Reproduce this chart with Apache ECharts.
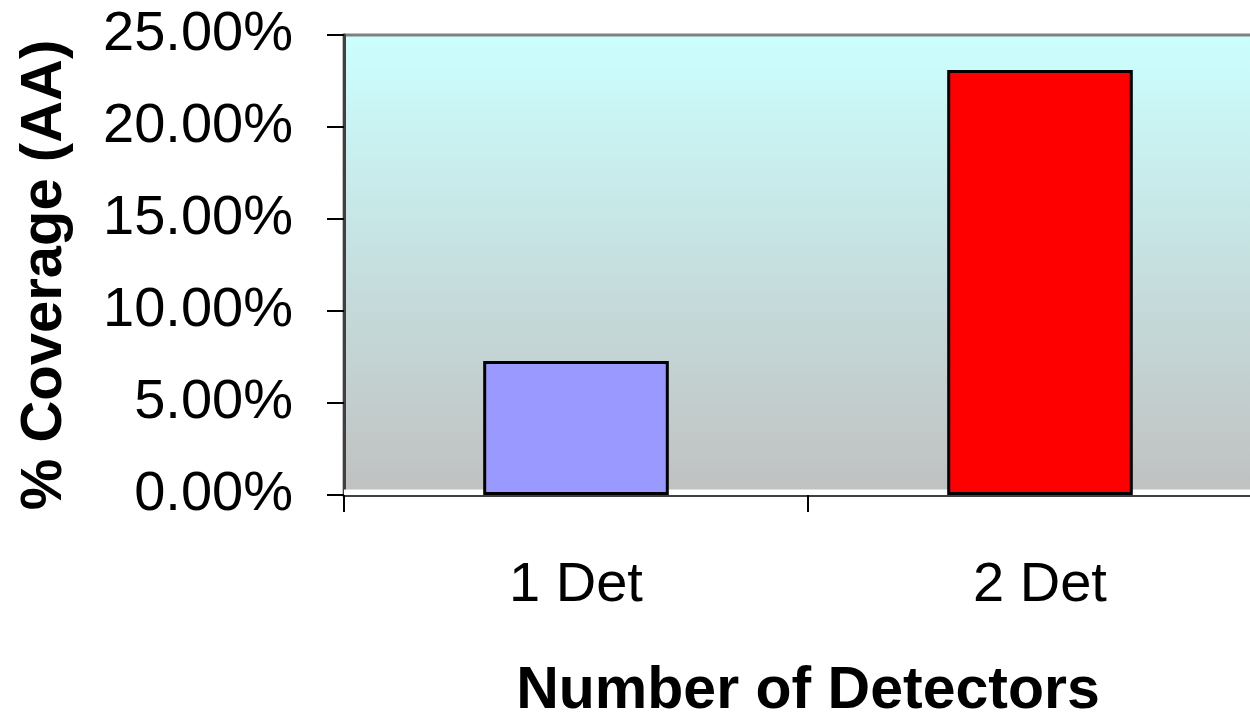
<!DOCTYPE html>
<html>
<head>
<meta charset="utf-8">
<script src="https://cdn.jsdelivr.net/npm/echarts@6/dist/echarts.min.js"></script>
<style>
html,body{margin:0;padding:0;background:#fff;}
#chart{width:1250px;height:714px;}
</style>
</head>
<body>
<div id="chart"></div>
<script>
// Data
const categories = ['1 Det', '2 Det'];
const coverageValues = [7.28, 23.1];   // % Coverage (AA)
const barColors = ['#9999FF', '#FF0000'];
const yTicks = [0, 5, 10, 15, 20, 25];
const xAxisTitle = 'Number of Detectors';
const yAxisTitle = '% Coverage (AA)';

const FONT = '"Liberation Sans", Arial, Helvetica, sans-serif';
const chart = echarts.init(document.getElementById('chart'), null, {renderer: 'canvas'});

chart.setOption({
  animation: false,
  backgroundColor: '#ffffff',
  grid: {
    left: 344, top: 35, bottom: 219, right: -22,
    outerBoundsMode: 'none',
    containLabel: false,
    show: true,
    borderColor: '#808080',
    borderWidth: 3,
    backgroundColor: {
      type: 'linear', x: 0, y: 0, x2: 0, y2: 1,
      colorStops: [{offset: 0, color: '#CCFFFF'}, {offset: 1, color: '#C0C0C0'}]
    }
  },
  xAxis: {
    type: 'category',
    data: categories,
    boundaryGap: true,
    name: xAxisTitle,
    nameLocation: 'middle',
    nameGap: 167,
    nameTextStyle: {fontFamily: FONT, fontSize: 59, fontWeight: 'bold', color: '#000'},
    axisLine: {lineStyle: {color: '#404040', width: 3}},
    axisTick: {show: true, length: 17, alignWithLabel: false, lineStyle: {color: '#000', width: 2}},
    axisLabel: {fontFamily: FONT, fontSize: 56, color: '#000', margin: 63}
  },
  yAxis: {
    type: 'value',
    min: yTicks[0],
    max: yTicks[yTicks.length - 1],
    interval: yTicks[1] - yTicks[0],
    name: yAxisTitle,
    nameLocation: 'middle',
    nameGap: 270,
    nameTextStyle: {fontFamily: FONT, fontSize: 58, fontWeight: 'bold', color: '#000', padding: [0, 20, 0, 0]},
    axisLine: {show: true, lineStyle: {color: '#404040', width: 3}},
    axisTick: {show: true, length: 17, lineStyle: {color: '#000', width: 2}},
    splitLine: {show: false},
    axisLabel: {
      fontFamily: FONT, fontSize: 56, color: '#000', margin: 51,
      formatter: v => v.toFixed(2) + '%'
    }
  },
  series: [{
    type: 'bar',
    barWidth: '40%',
    data: coverageValues.map((v, i) => ({
      value: v,
      itemStyle: {color: barColors[i]}
    })),
    itemStyle: {borderColor: '#000', borderWidth: 3},
    markArea: {
      silent: true,
      z: 1,
      itemStyle: {color: '#ffffff'},
      data: [[{yAxis: 0}, {yAxis: 0.3}]]
    }
  }]
});
</script>
</body>
</html>
